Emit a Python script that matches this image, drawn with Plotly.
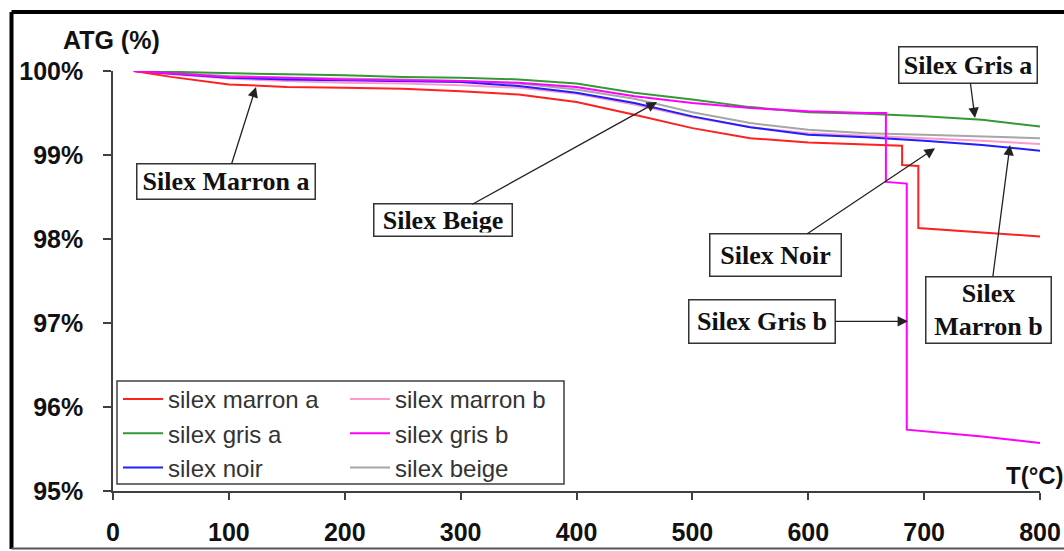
import plotly.graph_objects as go

# ---------------- data ----------------
T_grid = [18, 50, 100, 150, 200, 250, 300, 350, 400, 450, 500, 550, 600, 650, 700, 750, 800]

gris_a = [100.0, 99.99, 99.97, 99.96, 99.95, 99.93, 99.92, 99.90, 99.85, 99.74, 99.66, 99.57, 99.51, 99.49, 99.46, 99.42, 99.34]
noir = [100.0, 99.97, 99.92, 99.90, 99.89, 99.88, 99.87, 99.82, 99.74, 99.62, 99.46, 99.33, 99.24, 99.21, 99.17, 99.12, 99.05]
beige = [100.0, 99.98, 99.94, 99.92, 99.91, 99.90, 99.88, 99.85, 99.78, 99.67, 99.51, 99.38, 99.30, 99.26, 99.24, 99.22, 99.20]
marron_b = [100.0, 99.96, 99.91, 99.88, 99.86, 99.85, 99.83, 99.80, 99.73, 99.60, 99.45, 99.33, 99.26, 99.23, 99.20, 99.17, 99.13]

T_marron_a = [18, 50, 100, 150, 200, 250, 300, 350, 400, 450, 500, 550, 600, 650, 681, 681, 695, 695, 750, 800]
marron_a = [100.0, 99.93, 99.84, 99.81, 99.80, 99.79, 99.76, 99.72, 99.63, 99.48, 99.32, 99.20, 99.15, 99.12, 99.11, 98.88, 98.87, 98.13, 98.08, 98.03]

T_gris_b = [18, 50, 100, 150, 200, 250, 300, 350, 400, 450, 500, 550, 600, 650, 667, 667, 685, 685, 700, 750, 800]
gris_b = [100.0, 99.97, 99.93, 99.92, 99.90, 99.89, 99.88, 99.86, 99.81, 99.70, 99.62, 99.56, 99.52, 99.50, 99.50, 98.68, 98.66, 95.73, 95.71, 95.65, 95.57]

x_ticks = [0, 100, 200, 300, 400, 500, 600, 700, 800]
y_ticks = [95, 96, 97, 98, 99, 100]
y_tick_labels = ["95%", "96%", "97%", "98%", "99%", "100%"]

# ---------------- layout geometry ----------------
W, H = 1064, 551
ML, MR, MT, MB = 113, 24, 71, 60
PW, PH = W - ML - MR, H - MT - MB


def px(xp):
    return (xp - ML) / PW


def py(yp):
    return 1 - (yp - MT) / PH


fig = go.Figure()

series = [
    ("silex beige", T_grid, beige, "#A6A6A6", "legend2", 3),
    ("silex marron b", T_grid, marron_b, "#FF99CC", "legend2", 1),
    ("silex gris a", T_grid, gris_a, "#339933", "legend", 2),
    ("silex noir", T_grid, noir, "#1F1FFF", "legend", 3),
    ("silex marron a", T_marron_a, marron_a, "#FF2020", "legend", 1),
    ("silex gris b", T_gris_b, gris_b, "#FF00FF", "legend2", 2),
]
for name, xs, ys, col, lg, rank in series:
    fig.add_trace(go.Scatter(x=xs, y=ys, mode="lines", name=name,
                             line=dict(color=col, width=2),
                             legend=lg, legendrank=rank))

tick_font = dict(family="Liberation Sans, Arial", size=25, color="#111111")
fig.update_xaxes(range=[0, 800], tickvals=x_ticks, showline=True, linecolor="#404040",
                 linewidth=1.5, ticks="outside", ticklen=7, tickcolor="#404040",
                 tickwidth=1.5, showgrid=False, zeroline=False, automargin=False,
                 tickfont=dict(tick_font, weight="bold"), ticklabelstandoff=11)
fig.update_yaxes(range=[95, 100], tickvals=y_ticks, ticktext=y_tick_labels, showline=True,
                 linecolor="#404040", linewidth=1.5, ticks="outside", ticklen=8,
                 tickcolor="#404040", tickwidth=1.5, showgrid=False, zeroline=False,
                 automargin=False,
                 tickfont=dict(tick_font, weight="bold"), ticklabelstandoff=15)

leg_font = dict(family="Liberation Sans, Arial", size=24, color="#333333")
fig.update_layout(
    width=W, height=H,
    margin=dict(l=ML, r=MR, t=MT, b=MB, pad=0, autoexpand=False),
    paper_bgcolor="white", plot_bgcolor="white",
    legend=dict(x=px(118), y=py(377), xanchor="left", yanchor="top",
                font=leg_font, bgcolor="rgba(0,0,0,0)", borderwidth=0,
                tracegroupgap=0, itemwidth=40),
    legend2=dict(x=px(345), y=py(377), xanchor="left", yanchor="top",
                 font=leg_font, bgcolor="rgba(0,0,0,0)", borderwidth=0,
                 tracegroupgap=0, itemwidth=40),
)

shapes = [
    # legend box
    dict(type="rect", xref="paper", yref="paper", x0=px(117), x1=px(564), y0=py(484), y1=py(381),
         line=dict(color="#404040", width=1.5), fillcolor="rgba(0,0,0,0)", layer="below"),
    # outer frame
    dict(type="line", xref="paper", yref="paper", x0=px(11.5), x1=px(1070), y0=py(12), y1=py(12),
         line=dict(color="black", width=4)),
    dict(type="line", xref="paper", yref="paper", x0=px(11.5), x1=px(11.5), y0=py(12), y1=py(549),
         line=dict(color="black", width=4)),
    dict(type="line", xref="paper", yref="paper", x0=px(11.5), x1=px(1070), y0=py(548.5), y1=py(548.5),
         line=dict(color="#555555", width=2)),
]
fig.update_layout(shapes=shapes)

box_font = dict(family="Liberation Serif, Times New Roman", size=26, color="#111111", weight="bold")
labels = [
    # text, tip T, tip value, box centre px x, box centre px y, box w, box h
    ("Silex Marron a", 123.4, 99.81, 226, 181.5, 171, 28),
    ("Silex Beige", 469.5, 99.63, 443, 220.5, 131, 25),
    ("Silex Gris a", 743.9, 99.44, 968, 65, 131, 29),
    ("Silex Noir", 709.4, 99.08, 775.5, 255, 124, 35),
    ("Silex Gris b", 686.1, 97.02, 762, 321.5, 139, 36),
    ("Silex<br>Marron b", 774.1, 99.12, 988.5, 310, 118, 59),
]
annotations = []
for text, tx, tv, bx, by, bw, bh in labels:
    tip_x = ML + tx / 800 * PW
    tip_y = MT + (100 - tv) / 5 * PH
    annotations.append(dict(
        x=tx, y=tv, xref="x", yref="y", text=text, showarrow=True,
        ax=bx - tip_x, ay=by - tip_y, arrowhead=2, arrowsize=1.6, arrowwidth=1.3,
        arrowcolor="#222222", font=box_font, bgcolor="white", bordercolor="#333333",
        borderwidth=1.5, borderpad=3, standoff=0, align="center", valign="middle",
        width=bw, height=bh))

annotations.append(dict(x=px(61), y=py(40), xref="paper", yref="paper", text="ATG (%)",
                        showarrow=False, xanchor="left", yanchor="middle",
                        font=dict(tick_font, weight="bold")))
annotations.append(dict(x=px(1004), y=py(475), xref="paper", yref="paper", text="T(°C)",
                        showarrow=False, xanchor="left", yanchor="middle",
                        font=dict(tick_font, size=24, weight="bold")))
fig.update_layout(annotations=annotations)

fig.write_html("out.html")
